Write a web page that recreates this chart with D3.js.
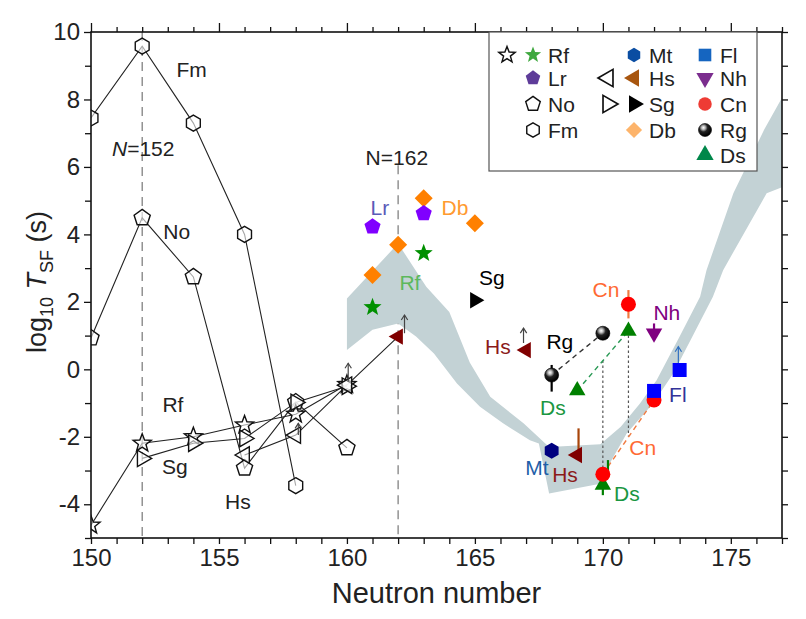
<!DOCTYPE html>
<html lang="en">
<head>
<meta charset="utf-8">
<title>Spontaneous fission half-lives</title>
<script src="https://d3js.org/d3.v7.min.js"></script>
<style>
  body { margin: 0; background: #fff; }
  text { font-family: "Liberation Sans", Arial, sans-serif; }
</style>
</head>
<body>
<div id="chart-container"></div>
<script>
// open symbols (systematics), joined by thin lines
const fmN = [150, 152, 154, 156, 158];
const fmT = [7.45, 9.58, 7.3, 4.0, -3.45];
const noN = [150, 152, 154, 156, 158, 160];
const noT = [0.93, 4.49, 2.74, -2.93, -0.97, -2.33];
const rfN = [150, 152, 154, 156, 158, 160];
const rfT = [-4.62, -2.19, -2.0, -1.65, -1.33, -0.45];
const sgN = [152, 154, 156, 158, 160];
const sgT = [-2.64, -2.19, -2.05, -0.98, -0.5];
const hsN = [156, 158, 160];
const hsT = [-2.54, -1.95, -0.47];

// filled symbols
const rfFillN = [161, 163], rfFillT = [1.84, 3.44];
const lrN = [161, 163], lrT = [4.23, 4.62];
const dbN = [161, 162, 163, 165], dbT = [2.80, 3.69, 5.07, 4.33];
const sgFillN = [165], sgFillT = [2.05];
const hsFillN = [162, 167, 169], hsFillT = [0.97, 0.57, -2.54];
const mtN = [168], mtT = [-2.41];
const rgN = [168, 170], rgT = [-0.17, 1.07];
const dsN = [169, 171, 170], dsT = [-0.63, 1.14, -3.43];
const cnN = [171, 170, 172], cnT = [1.93, -3.11, -0.91];
const nhN = [172], nhT = [1.07];
const flN = [172, 173], flT = [-0.64, -0.02];

// shaded band (upper edge left->right, lower edge right->left)
const bandUpN = [160, 162, 163.1, 164, 164.8, 165.6, 166.9, 167.9, 169.9, 170.7, 171.45, 172.1, 173.0, 173.8, 174.05, 175.1, 176.3, 177];
const bandUpT = [2.1, 3.73, 2.45, 1.7, 0.2, -0.81, -1.6, -2.3, -2.22, -1.7, -1.01, -0.32, 0.97, 2.15, 2.94, 5.22, 7.1, 8.05];
const bandLoN = [177, 176.4, 174.7, 174.3, 173.5, 172.75, 171.96, 170.93, 170.3, 170.0, 167.9, 167.5, 167.15, 166.1, 165.2, 164.3, 163.4, 162.7, 162, 161, 160];
const bandLoT = [5.4, 5.22, 2.94, 2.15, 0.97, -0.12, -1.01, -1.9, -2.75, -3.38, -3.68, -2.2, -2.1, -1.6, -1.11, -0.42, 0.47, 0.97, 1.36, 1.17, 0.57];

// lower-limit arrows
const arrowN = [158.1, 160.05, 162.25, 166.9, 172.95];
const arrowFrom = [-1.95, -0.37, 1.07, 0.78, 0.13];
const arrowTo = [-1.6, 0.18, 1.61, 1.22, 0.67];
const arrowEl = ["Hs", "Rf", "Hs", "Hs", "Fl"];

// short bars
const errN = [171, 172, 168, 169.05, 170, 170.2];
const errLo = [1.51, 1.12, -0.66, -2.49, -3.73, -3.15];
const errHi = [2.35, 1.36, 0.13, -1.75, -3.48, -2.69];
const errEl = ["Cn", "Nh", "Rg", "Hs", "Ds", "Ds"];

// dotted verticals
const dotN = [170, 171], dotHi = [0.26, 1.0], dotLo = [-3.0, -2.0];

// labels
const lblText = ["Fm", "No", "Rf", "Sg", "Hs", "Lr", "Db", "Rf", "Sg", "Hs", "Cn", "Nh", "Rg", "Ds", "Fl", "Cn", "Mt", "Hs", "Ds"];
const lblN = [153.93, 153.35, 153.2, 153.28, 155.74, 161.29, 164.22, 162.46, 165.66, 165.9, 170.12, 172.5, 168.32, 168.05, 172.93, 171.56, 167.42, 168.52, 170.94];
const lblT = [8.87, 4.08, -1.06, -2.89, -3.93, 4.78, 4.78, 2.56, 2.71, 0.66, 2.35, 1.67, 0.81, -1.15, -0.76, -2.33, -2.9, -3.13, -3.7];
const lblKind = ["k", "k", "k", "k", "k", "Lr", "Db", "Rf", "Sg", "Hs", "Cn", "Nh", "Rg", "Ds", "Fl", "Cn", "Mt", "Hs", "Ds"];

const xTicks = d3.range(150, 178);
const yTicks = d3.range(-5, 11);

const W = 806, H = 619;
const margin = {top: 32, right: 24, bottom: 81, left: 91};
const width = W - margin.left - margin.right;
const height = H - margin.top - margin.bottom;

const markCol = {Rf: "#009000", Lr: "#8000ff", Db: "#ff8000", Sg: "#000000", Hs: "#800000", Mt: "#000080",
                 Ds: "#008000", Cn: "#ff0000", Nh: "#800080", Fl: "#0000ff", Rg: "#000000"};
const legCol = {Rf: "#3fa83f", Lr: "#5e3c99", Db: "#fdb46b", Sg: "#000000", Hs: "#a8560f", Mt: "#0a4da2",
                Ds: "#00874a", Cn: "#ee3b34", Nh: "#7b2d8e", Fl: "#1565c0"};
const textCol = {k: "#222", Lr: "#5a5ab8", Db: "#ff9a30", Rf: "#5cb85c", Sg: "#000", Hs: "#8b1a1a", Cn: "#ff6a33",
                 Nh: "#800080", Rg: "#000", Ds: "#1a9641", Fl: "#333399", Mt: "#1f5fa8"};
const barCol = {Cn: "#f07a40", Nh: "#800080", Rg: "#000", Hs: "#a8450a", Ds: "#008000"};
const arrowCol = {Hs: "#444", Rf: "#444", Fl: "#3070c0"};

function poly(n, r, rot) {
  const p = d3.range(n).map(i => {
    const a = (rot + i * 360 / n) * Math.PI / 180;
    return (r * Math.sin(a)).toFixed(2) + "," + (-r * Math.cos(a)).toFixed(2);
  });
  return "M" + p.join("L") + "Z";
}
function starPath(r) {
  const p = d3.range(10).map(i => {
    const a = i * 36 * Math.PI / 180, rr = i % 2 ? r * 0.42 : r;
    return (rr * Math.sin(a)).toFixed(2) + "," + (-rr * Math.cos(a)).toFixed(2);
  });
  return "M" + p.join("L") + "Z";
}
const shp = {
  star: starPath(9.5),
  pent: poly(5, 8.5, 0),
  hex: poly(6, 8, 0),
  tri: poly(3, 9.5, 0),
  triDown: poly(3, 9.5, 180),
  triLeft: poly(3, 9.5, 270),
  triRight: poly(3, 9.5, 90),
  square: "M-7,-7h14v14h-14Z",
  diamond: poly(4, 9, 0),
  circle: d3.symbol(d3.symbolCircle, Math.PI * 7.5 * 7.5)()
};

const svg = d3.select("#chart-container").append("svg")
    .attr("width", W).attr("height", H);

const defs = svg.append("defs");
defs.append("clipPath").attr("id", "plotclip")
  .append("rect").attr("width", width).attr("height", height);
const grad = defs.append("radialGradient").attr("id", "ball")
    .attr("cx", "38%").attr("cy", "32%").attr("r", "65%");
grad.append("stop").attr("offset", "0%").attr("stop-color", "#ffffff");
grad.append("stop").attr("offset", "22%").attr("stop-color", "#bbbbbb");
grad.append("stop").attr("offset", "50%").attr("stop-color", "#222222");
grad.append("stop").attr("offset", "100%").attr("stop-color", "#000000");

const g = svg.append("g").attr("transform", `translate(${margin.left},${margin.top})`);

const x = d3.scaleLinear().domain([150, 177]).range([0, width]);
const y = d3.scaleLinear().domain([-5, 10]).range([height, 0]);

const plot = g.append("g").attr("clip-path", "url(#plotclip)");

// N=152 and N=162 guides
plot.append("line").attr("x1", x(152)).attr("x2", x(152)).attr("y1", y(10)).attr("y2", y(-5))
    .attr("stroke", "#777").attr("stroke-width", 1.2).attr("stroke-dasharray", "9,6");
plot.append("line").attr("x1", x(162)).attr("x2", x(162)).attr("y1", y(6.05)).attr("y2", y(-5))
    .attr("stroke", "#777").attr("stroke-width", 1.2).attr("stroke-dasharray", "9,6");

// band
const bandPts = bandUpN.map((n, i) => [x(n), y(bandUpT[i])])
  .concat(bandLoN.map((n, i) => [x(n), y(bandLoT[i])]));
plot.append("path").attr("d", "M" + bandPts.join("L") + "Z").attr("fill", "#c3d2d5");

// dotted verticals
dotN.forEach((n, i) => {
  plot.append("line").attr("x1", x(n)).attr("x2", x(n)).attr("y1", y(dotHi[i])).attr("y2", y(dotLo[i]))
      .attr("stroke", "#555").attr("stroke-width", 1.2).attr("stroke-dasharray", "2.5,2.5");
});

// dashed links between filled points
const links = [
  [rgN[0], rgT[0], rgN[1], rgT[1], "#333"],
  [dsN[0], dsT[0], dsN[1], dsT[1], "#2a9a55"],
  [cnN[1], cnT[1], cnN[2], cnT[2], "#f07a40"]
];
links.forEach(l => {
  plot.append("line").attr("x1", x(l[0])).attr("y1", y(l[1])).attr("x2", x(l[2])).attr("y2", y(l[3]))
      .attr("stroke", l[4]).attr("stroke-width", 1.4).attr("stroke-dasharray", "5,4");
});

// systematics lines
const line = d3.line().x(d => x(d[0])).y(d => y(d[1]));
const zip = (a, b) => a.map((v, i) => [v, b[i]]);
const series = [
  [zip(fmN, fmT), "hex"],
  [zip(noN, noT), "pent"],
  [zip(rfN, rfT), "star"],
  [zip(sgN, sgT), "triRight"],
  [zip(hsN, hsT), "triLeft"]
];
series.forEach(s => {
  let pts = s[0];
  if (s[1] === "triLeft") pts = pts.concat([[hsFillN[0], hsFillT[0]]]);
  plot.append("path").attr("d", line(pts)).attr("fill", "none").attr("stroke", "#222").attr("stroke-width", 1.1);
});
series.forEach(s => {
  plot.selectAll(null).data(s[0]).enter().append("path")
      .attr("transform", d => `translate(${x(d[0])},${y(d[1])})`)
      .attr("d", shp[s[1]]).attr("fill", "#fff").attr("fill-opacity", 0.6)
      .attr("stroke", "#111").attr("stroke-width", 1.4);
});

// arrows (lower limits)
arrowN.forEach((n, i) => {
  const c = arrowCol[arrowEl[i]], ax = x(n), ty = y(arrowTo[i]);
  plot.append("line").attr("x1", ax).attr("x2", ax).attr("y1", y(arrowFrom[i])).attr("y2", ty)
      .attr("stroke", c).attr("stroke-width", 1.2);
  plot.append("path").attr("d", `M${ax - 3.2},${ty + 5}L${ax},${ty}L${ax + 3.2},${ty + 5}`)
      .attr("fill", "none").attr("stroke", c).attr("stroke-width", 1.2);
});

// short bars
errN.forEach((n, i) => {
  plot.append("line").attr("x1", x(n)).attr("x2", x(n)).attr("y1", y(errLo[i])).attr("y2", y(errHi[i]))
      .attr("stroke", barCol[errEl[i]]).attr("stroke-width", 2.2);
});

// filled symbols
function filled(ns, ts, shape, el) {
  plot.selectAll(null).data(zip(ns, ts)).enter().append("path")
      .attr("transform", d => `translate(${x(d[0])},${y(d[1])})`)
      .attr("d", shp[shape]).attr("fill", markCol[el]);
}
filled(dbN, dbT, "diamond", "Db");
filled(lrN, lrT, "pent", "Lr");
filled(rfFillN, rfFillT, "star", "Rf");
filled(sgFillN, sgFillT, "triRight", "Sg");
filled(hsFillN, hsFillT, "triLeft", "Hs");
filled(mtN, mtT, "hex", "Mt");
filled(dsN, dsT, "tri", "Ds");
filled(cnN, cnT, "circle", "Cn");
filled(nhN, nhT, "triDown", "Nh");
filled(flN, flT, "square", "Fl");
plot.selectAll(null).data(zip(rgN, rgT)).enter().append("circle")
    .attr("cx", d => x(d[0])).attr("cy", d => y(d[1])).attr("r", 7)
    .attr("fill", "url(#ball)").attr("stroke", "#000").attr("stroke-width", 0.6);

// labels
lblText.forEach((t, i) => {
  g.append("text").attr("x", x(lblN[i])).attr("y", y(lblT[i])).attr("dy", "0.35em")
      .attr("text-anchor", "middle").attr("font-size", 21).attr("fill", textCol[lblKind[i]]).text(t);
});
const n152 = g.append("text").attr("x", x(152.04)).attr("y", y(6.55)).attr("dy", "0.35em")
    .attr("text-anchor", "middle").attr("font-size", 21).attr("fill", "#222");
n152.append("tspan").attr("font-style", "italic").text("N");
n152.append("tspan").text("=152");
g.append("text").attr("x", x(161.95)).attr("y", y(6.29)).attr("dy", "0.35em")
    .attr("text-anchor", "middle").attr("font-size", 21).attr("fill", "#222").text("N=162");

// axes
function styleAxis(sel, majorEvery, minorLen, majorLen, dir) {
  sel.select(".domain").remove();
  sel.selectAll(".tick line").attr("stroke", "#111").attr("stroke-width", 1.3)
     .each(function(d) {
       const len = (Math.round(d) % majorEvery === 0 ? majorLen : minorLen) * dir.s;
       d3.select(this).attr(dir.a, len);
     });
  sel.selectAll(".tick text").attr("font-size", 24).attr("fill", "#222")
     .style("font-family", "'Liberation Sans', Arial, sans-serif");
}
const axBottom = g.append("g").attr("transform", `translate(0,${height})`)
    .call(d3.axisBottom(x).tickValues(xTicks).tickSize(6).tickPadding(5)
      .tickFormat(d => d % 5 === 0 ? d : ""));
styleAxis(axBottom, 5, 6, 6, {a: "y2", s: 1});
const axTop = g.append("g")
    .call(d3.axisTop(x).tickValues(xTicks).tickFormat(""));
styleAxis(axTop, 5, 5, 9, {a: "y2", s: -1});
const axLeft = g.append("g")
    .call(d3.axisLeft(y).tickValues(yTicks).tickSize(6).tickPadding(5)
      .tickFormat(d => (d % 2 === 0 && d > -5) ? d : ""));
styleAxis(axLeft, 2, 6, 7, {a: "x2", s: -1});
const axRight = g.append("g").attr("transform", `translate(${width},0)`)
    .call(d3.axisRight(y).tickValues(yTicks).tickFormat(""));
styleAxis(axRight, 1, 6, 6, {a: "x2", s: 1});

g.append("rect").attr("width", width).attr("height", height)
    .attr("fill", "none").attr("stroke", "#111").attr("stroke-width", 1.6);

// axis titles (centred on their axes)
g.append("text").attr("x", width / 2).attr("y", height + 65)
    .attr("text-anchor", "middle").attr("font-size", 29).attr("fill", "#222").text("Neutron number");
const yt = svg.append("text").attr("transform", `translate(46,${margin.top + height / 2 - 3}) rotate(-90)`)
    .attr("text-anchor", "middle").attr("font-size", 27).attr("fill", "#222");
yt.append("tspan").text("log");
yt.append("tspan").attr("font-size", 18).attr("dy", 7).text("10");
yt.append("tspan").attr("dy", -7).text(" ");
yt.append("tspan").attr("font-style", "italic").text("T");
yt.append("tspan").attr("font-size", 18).attr("dy", 7).text("SF");
yt.append("tspan").attr("dy", -7).text(" (s)");

// legend
const leg = svg.append("g").attr("transform", "translate(489,32)");
leg.append("rect").attr("width", 268).attr("height", 139)
    .attr("fill", "#fff").attr("stroke", "#555").attr("stroke-width", 1.2);
const rowY = [23, 46, 72, 98, 123];
const legItems = [
  // [symbol x, row, shape, fill, label]
  [18, 0, "star", "open", null],
  [44, 0, "star", legCol.Rf, "Rf"],
  [44, 1, "pent", legCol.Lr, "Lr"],
  [44, 2, "pent", "open", "No"],
  [44, 3, "hex", "open", "Fm"],
  [145, 0, "hex", legCol.Mt, "Mt"],
  [119, 1, "triLeft", "open", null],
  [145, 1, "triLeft", legCol.Hs, "Hs"],
  [119, 2, "triRight", "open", null],
  [145, 2, "triRight", legCol.Sg, "Sg"],
  [145, 3, "diamond", legCol.Db, "Db"],
  [216, 0, "square", legCol.Fl, "Fl"],
  [216, 1, "triDown", legCol.Nh, "Nh"],
  [216, 2, "circle", legCol.Cn, "Cn"],
  [216, 3, "ball", null, "Rg"],
  [216, 4, "tri", legCol.Ds, "Ds"]
];
legItems.forEach(it => {
  const cx = it[0], cy = rowY[it[1]];
  if (it[2] === "ball") {
    leg.append("circle").attr("cx", cx).attr("cy", cy).attr("r", 6.5)
        .attr("fill", "url(#ball)").attr("stroke", "#000").attr("stroke-width", 0.6);
  } else {
    const p = leg.append("path").attr("transform", `translate(${cx},${cy})${it[2].startsWith("tri") ? "scale(1.05)" : "scale(0.9)"}`)
        .attr("d", shp[it[2]]);
    if (it[3] === "open") p.attr("fill", "#fff").attr("stroke", "#111").attr("stroke-width", 1.6);
    else p.attr("fill", it[3]);
  }
  if (it[4]) {
    leg.append("text").attr("x", cx + 15).attr("y", cy).attr("dy", "0.36em")
        .attr("font-size", 21).attr("fill", "#222").text(it[4]);
  }
});
</script>
</body>
</html>
